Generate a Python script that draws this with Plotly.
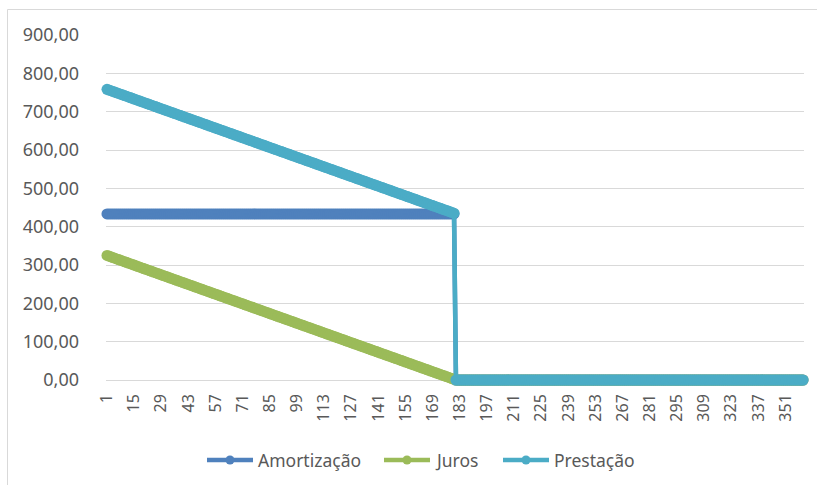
import plotly.graph_objects as go

# Período (parcela) 1..360
periodos = list(range(1, 361))

# Rótulos exibidos no eixo horizontal (a cada 14 parcelas)
rotulos_x = [1, 15, 29, 43, 57, 71, 85, 99, 113, 127, 141, 155, 169, 183,
             197, 211, 225, 239, 253, 267, 281, 295, 309, 323, 337, 351]

# Amortização constante nas 180 primeiras parcelas
amortizacao = [433.33] * 180 + [0.0] * 180

# Juros decrescentes
juros = [
    325.00, 323.19, 321.39, 319.58, 317.78, 315.97, 314.17, 312.36, 310.56, 308.75,
    306.94, 305.14, 303.33, 301.53, 299.72, 297.92, 296.11, 294.31, 292.50, 290.69,
    288.89, 287.08, 285.28, 283.47, 281.67, 279.86, 278.06, 276.25, 274.44, 272.64,
    270.83, 269.03, 267.22, 265.42, 263.61, 261.81,
    260.00, 258.19, 256.39, 254.58, 252.78, 250.97, 249.17, 247.36, 245.56, 243.75,
    241.94, 240.14, 238.33, 236.53, 234.72, 232.92, 231.11, 229.31, 227.50, 225.69,
    223.89, 222.08, 220.28, 218.47, 216.67, 214.86, 213.06, 211.25, 209.44, 207.64,
    205.83, 204.03, 202.22, 200.42, 198.61, 196.81,
    195.00, 193.19, 191.39, 189.58, 187.78, 185.97, 184.17, 182.36, 180.56, 178.75,
    176.94, 175.14, 173.33, 171.53, 169.72, 167.92, 166.11, 164.31, 162.50, 160.69,
    158.89, 157.08, 155.28, 153.47, 151.67, 149.86, 148.06, 146.25, 144.44, 142.64,
    140.83, 139.03, 137.22, 135.42, 133.61, 131.81,
    130.00, 128.19, 126.39, 124.58, 122.78, 120.97, 119.17, 117.36, 115.56, 113.75,
    111.94, 110.14, 108.33, 106.53, 104.72, 102.92, 101.11, 99.31, 97.50, 95.69,
    93.89, 92.08, 90.28, 88.47, 86.67, 84.86, 83.06, 81.25, 79.44, 77.64,
    75.83, 74.03, 72.22, 70.42, 68.61, 66.81,
    65.00, 63.19, 61.39, 59.58, 57.78, 55.97, 54.17, 52.36, 50.56, 48.75,
    46.94, 45.14, 43.33, 41.53, 39.72, 37.92, 36.11, 34.31, 32.50, 30.69,
    28.89, 27.08, 25.28, 23.47, 21.67, 19.86, 18.06, 16.25, 14.44, 12.64,
    10.83, 9.03, 7.22, 5.42, 3.61, 1.81,
] + [0.0] * 180

# Prestação (parcela total)
prestacao = [
    758.33, 756.52, 754.72, 752.91, 751.11, 749.30, 747.50, 745.69, 743.89, 742.08,
    740.27, 738.47, 736.66, 734.86, 733.05, 731.25, 729.44, 727.64, 725.83, 724.02,
    722.22, 720.41, 718.61, 716.80, 715.00, 713.19, 711.39, 709.58, 707.77, 705.97,
    704.16, 702.36, 700.55, 698.75, 696.94, 695.14,
    693.33, 691.52, 689.72, 687.91, 686.11, 684.30, 682.50, 680.69, 678.89, 677.08,
    675.27, 673.47, 671.66, 669.86, 668.05, 666.25, 664.44, 662.64, 660.83, 659.02,
    657.22, 655.41, 653.61, 651.80, 650.00, 648.19, 646.39, 644.58, 642.77, 640.97,
    639.16, 637.36, 635.55, 633.75, 631.94, 630.14,
    628.33, 626.52, 624.72, 622.91, 621.11, 619.30, 617.50, 615.69, 613.89, 612.08,
    610.27, 608.47, 606.66, 604.86, 603.05, 601.25, 599.44, 597.64, 595.83, 594.02,
    592.22, 590.41, 588.61, 586.80, 585.00, 583.19, 581.39, 579.58, 577.77, 575.97,
    574.16, 572.36, 570.55, 568.75, 566.94, 565.14,
    563.33, 561.52, 559.72, 557.91, 556.11, 554.30, 552.50, 550.69, 548.89, 547.08,
    545.27, 543.47, 541.66, 539.86, 538.05, 536.25, 534.44, 532.64, 530.83, 529.02,
    527.22, 525.41, 523.61, 521.80, 520.00, 518.19, 516.39, 514.58, 512.77, 510.97,
    509.16, 507.36, 505.55, 503.75, 501.94, 500.14,
    498.33, 496.52, 494.72, 492.91, 491.11, 489.30, 487.50, 485.69, 483.89, 482.08,
    480.27, 478.47, 476.66, 474.86, 473.05, 471.25, 469.44, 467.64, 465.83, 464.02,
    462.22, 460.41, 458.61, 456.80, 455.00, 453.19, 451.39, 449.58, 447.77, 445.97,
    444.16, 442.36, 440.55, 438.75, 436.94, 435.14,
] + [0.0] * 180

# Rótulos do eixo vertical
valores_y = [0, 100, 200, 300, 400, 500, 600, 700, 800, 900]
rotulos_y = ["0,00", "100,00", "200,00", "300,00", "400,00",
             "500,00", "600,00", "700,00", "800,00", "900,00"]

series = [
    ("Amortização", amortizacao, "#4F81BD"),
    ("Juros", juros, "#9BBB59"),
    ("Prestação", prestacao, "#4BACC6"),
]

FONTE = "Noto Sans"
CINZA_TEXTO = "#595959"
CINZA_GRADE = "#D9D9D9"

fig = go.Figure()
for nome, valores, cor in series:
    fig.add_trace(go.Scatter(
        x=periodos, y=valores, name=nome, mode="lines+markers",
        line=dict(color=cor, width=4.5),
        marker=dict(color=cor, size=11, line=dict(width=0)),
        cliponaxis=False, showlegend=False,
    ))

W, H = 817, 485
L, R, T, B = 106, 13, 35, 105
pw, ph = W - L - R, H - T - B


def px_x(p):
    return (p - L) / pw


def px_y(p):
    return (H - B - p) / ph


# Moldura do gráfico
shapes = [dict(
    type="rect", xref="paper", yref="paper",
    x0=px_x(7.5), x1=px_x(830), y0=px_y(9.5), y1=px_y(500),
    line=dict(color=CINZA_GRADE, width=1), fillcolor="rgba(0,0,0,0)",
    layer="below",
)]
annotations = []

# Legenda: linha com marcador seguida do nome da série
legenda_inicio = [207, 384, 503]
comprimento_simbolo = 46
legenda_y = 460
raio_marcador = 4.5
for (nome, _, cor), x0 in zip(series, legenda_inicio):
    x1 = x0 + comprimento_simbolo
    xc = (x0 + x1) / 2
    shapes.append(dict(
        type="line", xref="paper", yref="paper",
        x0=px_x(x0), x1=px_x(x1), y0=px_y(legenda_y), y1=px_y(legenda_y),
        line=dict(color=cor, width=4.5),
    ))
    shapes.append(dict(
        type="circle", xref="paper", yref="paper",
        x0=px_x(xc - raio_marcador), x1=px_x(xc + raio_marcador),
        y0=px_y(legenda_y + raio_marcador), y1=px_y(legenda_y - raio_marcador),
        line=dict(width=0), fillcolor=cor,
    ))
    annotations.append(dict(
        text=nome, xref="paper", yref="paper",
        x=px_x(x1 + 3), y=px_y(legenda_y - 0.5),
        xanchor="left", yanchor="middle", showarrow=False,
        font=dict(family=FONTE, size=17.5, color=CINZA_TEXTO),
    ))

fig.update_layout(
    width=W, height=H,
    margin=dict(l=L, r=R, t=T, b=B, pad=0),
    paper_bgcolor="white", plot_bgcolor="white",
    font=dict(family=FONTE, color=CINZA_TEXTO, size=15),
    showlegend=False,
    xaxis=dict(
        range=[0.5, 360.5], tickmode="array",
        tickvals=rotulos_x, ticktext=[str(v) for v in rotulos_x],
        tickangle=-90, ticks="", showgrid=False, zeroline=False,
        showline=False, ticklabelstandoff=10,
        tickfont=dict(family=FONTE, size=16, color=CINZA_TEXTO),
    ),
    yaxis=dict(
        range=[0, 900], tickmode="array",
        tickvals=valores_y, ticktext=rotulos_y,
        ticks="", showgrid=True, gridcolor=CINZA_GRADE, gridwidth=1,
        zeroline=True, zerolinecolor=CINZA_GRADE, zerolinewidth=1,
        showline=False, ticklabelstandoff=26,
        tickfont=dict(family=FONTE, size=18, color=CINZA_TEXTO),
    ),
    shapes=shapes,
    annotations=annotations,
)

fig.write_html("out.html")
